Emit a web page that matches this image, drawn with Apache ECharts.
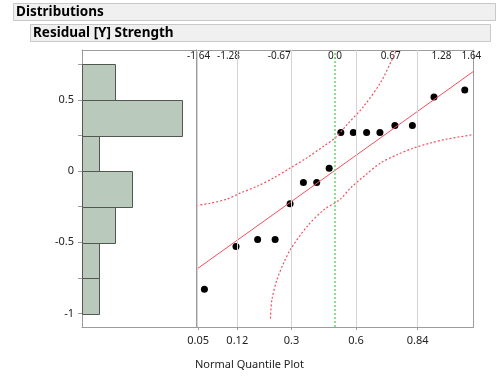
<!DOCTYPE html>
<html>
<head>
<meta charset="utf-8">
<script src="https://cdn.jsdelivr.net/npm/echarts@6/dist/echarts.min.js"></script>
<style>
html,body{margin:0;padding:0;background:#fff;}
#chart{width:498px;height:387px;}
</style>
</head>
<body>
<div id="chart"></div>
<script>
// ---- data ----
var binStarts = [-1.0, -0.75, -0.5, -0.25, 0.0, 0.25, 0.5];
var binEnds   = [-0.75, -0.5, -0.25, 0.0, 0.25, 0.5, 0.75];
var binCounts = [1, 1, 2, 3, 1, 6, 2];

var quantileZ = [-1.57, -1.19, -0.93, -0.72, -0.54, -0.38, -0.22, -0.07, 0.07, 0.22, 0.38, 0.54, 0.72, 0.93, 1.19, 1.56];
var residuals = [-0.83, -0.53, -0.48, -0.48, -0.23, -0.08, -0.08, 0.02, 0.27, 0.27, 0.27, 0.27, 0.32, 0.32, 0.52, 0.57];

var refLineZ = [-1.665, 1.665];
var refLineY = [-0.69, 0.70];

var upperBandZ = [-1.665, -1.50, -1.30, -1.14, -0.94, -0.74, -0.54, -0.34, -0.14, 0.0, 0.145, 0.345, 0.546, 0.687, 0.74];
var upperBandY = [-0.242, -0.226, -0.197, -0.155, -0.108, -0.049, 0.021, 0.092, 0.173, 0.232, 0.326, 0.455, 0.62, 0.784, 0.85];
var lowerBandZ = [-0.776, -0.759, -0.699, -0.619, -0.539, -0.337, -0.137, 0.064, 0.184, 0.345, 0.546, 0.747, 0.947, 1.148, 1.349, 1.665];
var lowerBandY = [-1.035, -0.906, -0.766, -0.648, -0.554, -0.390, -0.273, -0.197, -0.12, -0.038, 0.056, 0.115, 0.162, 0.197, 0.225, 0.256];

var histTickValues = [-1, -0.75, -0.5, -0.25, 0, 0.25, 0.5, 0.75];
var histLabelValues = [-1, -0.5, 0, 0.5];
var histLabels = ['-1', '-0.5', '0', '0.5'];

var probZ = [-1.645, -1.175, -0.524, 0.253, 0.994];
var probLabels = ['0.05', '0.12', '0.3', '0.6', '0.84'];
var topZ = [-1.64, -1.28, -0.67, 0.0, 0.67, 1.28, 1.64];
var topLabels = ['-1.64', '-1.28', '-0.67', '0.0', '0.67', '1.28', '1.64'];

// ---- build ----
var FONT = "'Noto Sans', 'DejaVu Sans', sans-serif";
var frameColor = '#9c9c9c';
var redColor = '#f0505c';

function zip(a, b) { return a.map(function (v, i) { return [v, b[i]]; }); }

var histData = binStarts.map(function (s, i) { return [s, binEnds[i], binCounts[i]]; });

var chart = echarts.init(document.getElementById('chart'), null, {renderer: 'canvas'});

function frameAxis(extra) {
  var base = {
    axisLine: {show: true, onZero: false, lineStyle: {color: frameColor, width: 1}},
    axisTick: {show: false}, axisLabel: {show: false}, splitLine: {show: false}
  };
  for (var k in extra) base[k] = extra[k];
  return base;
}

var option = {
  animation: false,
  backgroundColor: '#ffffff',
  graphic: [
    {type: 'rect', shape: {x: 13.5, y: 3.5, width: 482, height: 17}, style: {fill: '#f0f0f0', stroke: '#c8c8c8', lineWidth: 1}},
    {type: 'text', x: 16, y: 12, style: {text: 'Distributions', font: 'bold 13.5px ' + FONT, fill: '#000', verticalAlign: 'middle'}},
    {type: 'rect', shape: {x: 30.5, y: 24.5, width: 460, height: 17}, style: {fill: '#f0f0f0', stroke: '#c8c8c8', lineWidth: 1}},
    {type: 'text', x: 33, y: 33, style: {text: 'Residual [Y] Strength', font: 'bold 13.5px ' + FONT, fill: '#000', verticalAlign: 'middle'}},
    {type: 'text', x: 195, y: 365, style: {text: 'Normal Quantile Plot', font: '11px ' + FONT, fill: '#222', verticalAlign: 'middle'}}
  ],
  grid: [
    {left: 82, top: 50, width: 114.5, height: 277},
    {left: 196.5, top: 50, width: 277, height: 277}
  ],
  xAxis: [
    frameAxis({gridIndex: 0, type: 'value', min: 0, max: 6.86, position: 'bottom'}),
    frameAxis({gridIndex: 0, type: 'value', min: 0, max: 6.86, position: 'top'}),
    {gridIndex: 1, type: 'value', min: -1.665, max: 1.665, position: 'bottom',
      axisLine: {show: true, onZero: false, lineStyle: {color: frameColor}},
      axisTick: {show: true, length: 3, customValues: probZ, lineStyle: {color: frameColor}},
      splitLine: {show: false},
      axisLabel: {show: true, customValues: probZ, margin: 8, fontFamily: FONT, fontSize: 11, color: '#222',
        formatter: function (v) { var i = probZ.indexOf(v); return i >= 0 ? probLabels[i] : ''; }}
    },
    {gridIndex: 1, type: 'value', min: -1.665, max: 1.665, position: 'top',
      axisLine: {show: true, onZero: false, lineStyle: {color: frameColor}},
      axisTick: {show: false},
      splitLine: {show: false},
      axisLabel: {show: true, inside: true, customValues: topZ, margin: 1, fontFamily: FONT, fontSize: 10, color: '#222',
        formatter: function (v) { var i = topZ.indexOf(v); return i >= 0 ? topLabels[i] : ''; }}
    }
  ],
  yAxis: [
    {gridIndex: 0, type: 'value', min: -1.095, max: 0.85, position: 'left',
      axisLine: {show: true, onZero: false, lineStyle: {color: frameColor}},
      axisTick: {show: true, length: 4, customValues: histTickValues, lineStyle: {color: frameColor}},
      splitLine: {show: false},
      axisLabel: {show: true, customValues: histLabelValues, margin: 8, fontFamily: FONT, fontSize: 11, color: '#222',
        formatter: function (v) { var i = histLabelValues.indexOf(v); return i >= 0 ? histLabels[i] : ''; }}
    },
    frameAxis({gridIndex: 0, type: 'value', min: -1.095, max: 0.85, position: 'right'}),
    frameAxis({gridIndex: 1, type: 'value', min: -1.095, max: 0.85, position: 'left'}),
    frameAxis({gridIndex: 1, type: 'value', min: -1.095, max: 0.85, position: 'right'})
  ],
  series: [
    {
      type: 'custom', xAxisIndex: 0, yAxisIndex: 0,
      data: histData,
      renderItem: function (params, api) {
        var p1 = api.coord([0, api.value(1)]);
        var p2 = api.coord([api.value(2), api.value(0)]);
        return {type: 'rect', shape: {x: Math.round(p1[0]) + 0.5, y: Math.round(p1[1]) + 0.5,
          width: Math.round(p2[0] - p1[0]), height: Math.round(p2[1] - p1[1])},
          style: {fill: '#b9c9bb', stroke: '#505850', lineWidth: 1}};
      }
    },
    {
      type: 'line', xAxisIndex: 2, yAxisIndex: 2, data: [], silent: true,
      markLine: {silent: true, symbol: 'none', label: {show: false},
        lineStyle: {color: '#d4d4d4', type: 'solid', width: 1},
        data: probZ.map(function (z) { return {xAxis: z}; })}
    },
    {
      type: 'line', xAxisIndex: 2, yAxisIndex: 2, data: [], silent: true,
      markLine: {silent: true, symbol: 'none', label: {show: false},
        lineStyle: {color: '#70d070', type: [2, 2], width: 1.5},
        data: [{xAxis: 0}]}
    },
    {
      type: 'line', xAxisIndex: 2, yAxisIndex: 2, symbol: 'none', silent: true,
      data: zip(upperBandZ, upperBandY), smooth: 0.3,
      lineStyle: {color: redColor, width: 1.2, type: [2, 2]}
    },
    {
      type: 'line', xAxisIndex: 2, yAxisIndex: 2, symbol: 'none', silent: true,
      data: zip(lowerBandZ, lowerBandY), smooth: 0.3,
      lineStyle: {color: redColor, width: 1.2, type: [2, 2]}
    },
    {
      type: 'line', xAxisIndex: 2, yAxisIndex: 2, symbol: 'none', silent: true,
      data: zip(refLineZ, refLineY),
      lineStyle: {color: redColor, width: 1}
    },
    {
      type: 'scatter', xAxisIndex: 2, yAxisIndex: 2, symbolSize: 7,
      itemStyle: {color: '#000', opacity: 1},
      data: zip(quantileZ, residuals)
    }
  ]
};
chart.setOption(option);
</script>
</body>
</html>
